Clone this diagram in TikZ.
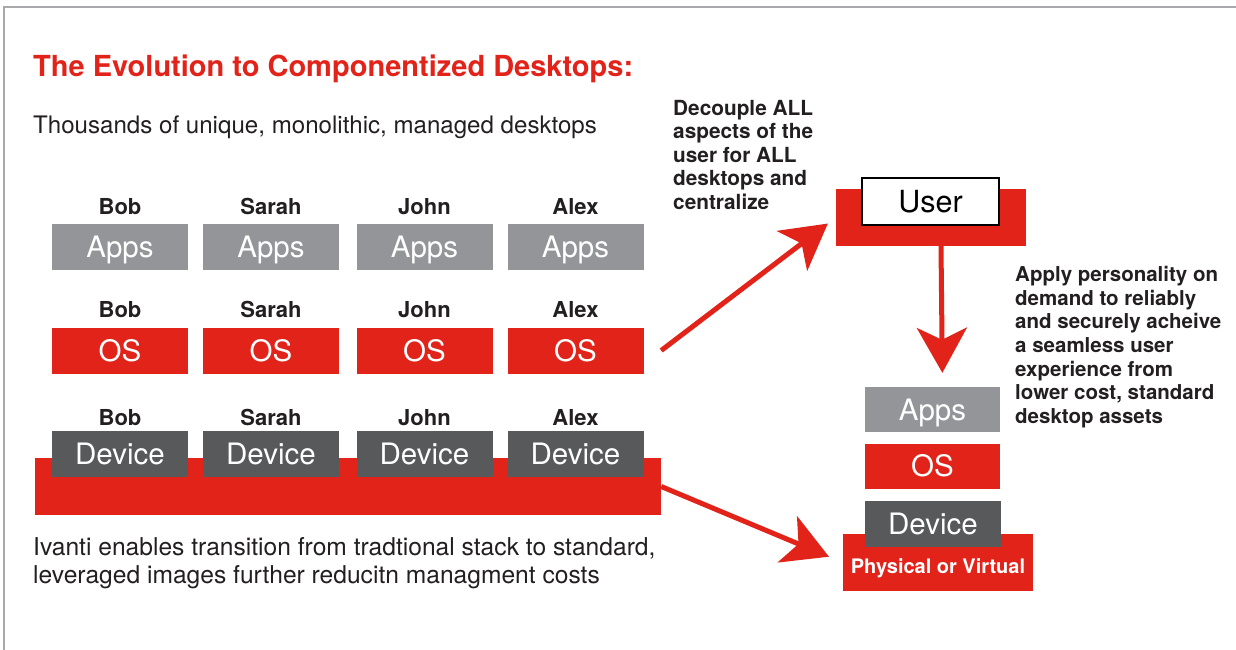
\documentclass[tikz,border=0pt]{standalone}
\usepackage{fontspec}
\setmainfont{TeX Gyre Heros}
\usetikzlibrary{arrows.meta}
\definecolor{ivred}{HTML}{E2231A}
\definecolor{appgrey}{HTML}{939598}
\definecolor{devgrey}{HTML}{58595B}
\definecolor{framegrey}{HTML}{A7A9AC}
\definecolor{ink}{HTML}{231F20}

\begin{document}
\begin{tikzpicture}[x=1pt,y=-1pt,
    box/.style={minimum width=136pt,minimum height=46pt,inner sep=0pt,text=white,
      text height=21pt,text depth=0pt,font=\fontsize{29.5}{31}\selectfont},
    appsbox/.style={box,fill=appgrey},
    osbox/.style={box,fill=ivred},
    devicebox/.style={box,fill=devgrey},
    bar/.style={fill=ivred,inner sep=0pt},
    who/.style={inner sep=0pt,text=ink,text height=15.5pt,text depth=0pt,
      font=\fontsize{22}{24}\selectfont\bfseries},
    note/.style={inner sep=0pt,anchor=north west,align=left,text=ink},
    bigarrow/.style={draw=ivred,line width=5pt,
      -{Stealth[length=45pt,width=50pt,inset=12pt]}}]

        \useasboundingbox (0,0) rectangle (1236,650);
        \draw[framegrey,line width=1.5pt] (4,650) -- (4,7) -- (1236,7);

        \node[anchor=base west,inner sep=0pt,text=ivred,
          font=\fontsize{29}{31}\selectfont\bfseries] (title) at (33,77)
          {The Evolution to Componentized Desktops:};
        \node[anchor=base west,inner sep=0pt,text=ink,
          font=\fontsize{24.1}{28}\selectfont] (sub) at (33,133)
          {Thousands of unique, monolithic, managed desktops};

        % the four desktops
        \node[bar,minimum width=626pt,minimum height=57pt] (base) at (348,486.5) {};

        \node[who] (n1) at (120,207) {Bob};
        \node[who] (n2) at (271,207) {Sarah};
        \node[who] (n3) at (424.5,207) {John};
        \node[who] (n4) at (575.5,207) {Alex};
        \node[appsbox] (a1) at (120,247) {Apps};
        \node[appsbox] (a2) at (271,247) {Apps};
        \node[appsbox] (a3) at (424.5,247) {Apps};
        \node[appsbox] (a4) at (575.5,247) {Apps};

        \node[who] (m1) at (120,310) {Bob};
        \node[who] (m2) at (271,310) {Sarah};
        \node[who] (m3) at (424.5,310) {John};
        \node[who] (m4) at (575.5,310) {Alex};
        \node[osbox] (o1) at (120,350.5) {OS};
        \node[osbox] (o2) at (271,350.5) {OS};
        \node[osbox] (o3) at (424.5,350.5) {OS};
        \node[osbox] (o4) at (575.5,350.5) {OS};

        \node[who] (k1) at (120,418) {Bob};
        \node[who] (k2) at (271,418) {Sarah};
        \node[who] (k3) at (424.5,418) {John};
        \node[who] (k4) at (575.5,418) {Alex};
        \node[devicebox] (d1) at (120,453.5) {Device};
        \node[devicebox] (d2) at (271,453.5) {Device};
        \node[devicebox] (d3) at (424.5,453.5) {Device};
        \node[devicebox] (d4) at (575.5,453.5) {Device};

        \node[note,font=\fontsize{24.6}{28}\selectfont] (ivanti) at (33,537.5)
          {Ivanti enables transition from tradtional stack to standard,\\
           leveraged images further reducitn managment costs};

        % the componentized desktop
        \node[bar,minimum width=190pt,minimum height=57pt] (ubar) at (931,217.5) {};
        \node[box,fill=white,draw=black,line width=1.5pt,text=black,
          minimum width=137pt,minimum height=47pt,text height=22pt,
          font=\fontsize{30.5}{32}\selectfont] (user) at (930.5,201.5) {User};

        \node[appsbox,minimum width=135pt,minimum height=45pt] (ra) at (932.5,409.5) {Apps};
        \node[osbox,minimum width=135pt,minimum height=45pt] (ro) at (932.5,466) {OS};
        \node[bar,minimum width=190pt,minimum height=57pt,text=white,
          text height=15pt,text depth=0pt,
          font=\fontsize{20}{22}\selectfont\bfseries] (phys) at (938,562.5) {\raisebox{-3pt}{Physical or Virtual}};
        \node[devicebox,minimum width=136pt,minimum height=46pt] (rd) at (933,524) {Device};

        \node[note,font=\fontsize{20.8}{23.5}\selectfont\bfseries] (decouple) at (673,100)
          {Decouple ALL\\aspects of the\\user for ALL\\desktops and\\centralize};
        \node[note,font=\fontsize{20.5}{23.7}\selectfont\bfseries] (apply) at (1015,266)
          {Apply personality on\\demand to reliably\\and securely acheive\\a seamless user\\
           experience from\\lower cost, standard\\desktop assets};

        % arrows
        \draw[bigarrow,shorten >=10pt] (base.east |- o4.east) -- (ubar.west);
        \draw[bigarrow,shorten >=15pt] (base.east) -- (phys.west);
        \draw[bigarrow,shorten >=14pt] ([xshift=10pt]ubar.south) -- ([xshift=10pt]ra.north);

      \end{tikzpicture}
\end{document}
